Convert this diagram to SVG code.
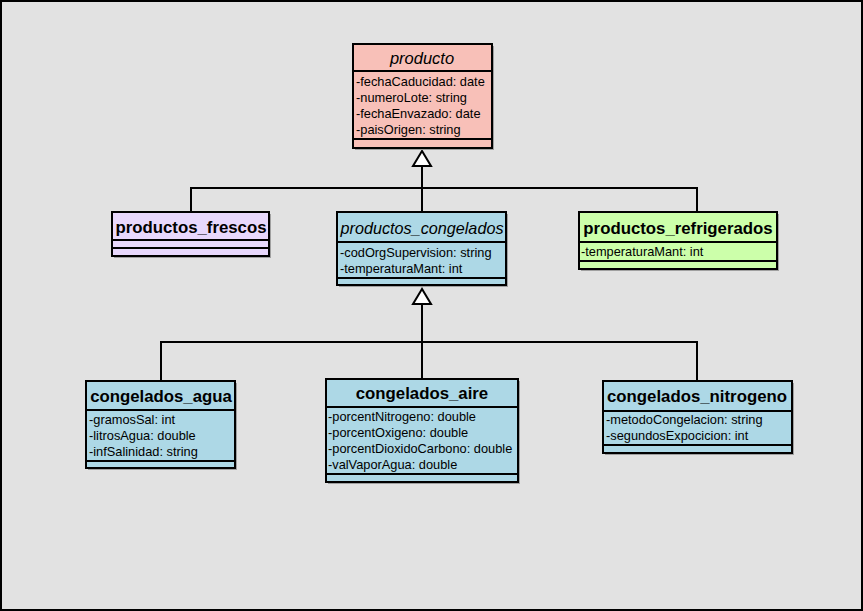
<svg xmlns="http://www.w3.org/2000/svg" width="863" height="611" viewBox="0 0 863 611">
<defs>
<style>
.bg{fill:#e2e2e2;stroke:#000;stroke-width:2}
.box{stroke:#000;stroke-width:2}
.sh{fill:#a0a0a0}
.sep{stroke:#000;stroke-width:2}
.pink{fill:#f8c0b8}
.lav{fill:#e8d8fc}
.blue{fill:#add8e6}
.green{fill:#ccffaa}
.t{font-family:"Liberation Sans",Arial,sans-serif;font-size:16.5px;text-anchor:middle;fill:#000}
.b{font-weight:bold;font-size:16.8px}
.i{font-style:italic}
.a{font-family:"Liberation Sans",Arial,sans-serif;font-size:12.8px;fill:#000}
.ln{fill:none;stroke:#000;stroke-width:2}
.tri{fill:#fff;stroke:#000;stroke-width:2}
</style>
</defs>
<rect class="bg" x="1" y="1" width="861" height="609"/>
<g id="connectors">
<polyline class="ln" points="191,211 191,188 697,188 697,212"/>
<line class="ln" x1="422" y1="166" x2="422" y2="212"/>
<polygon class="tri" points="422,151 413,166 431,166"/>
<polyline class="ln" points="161,381 161,342 697,342 697,380"/>
<line class="ln" x1="422" y1="304" x2="422" y2="378"/>
<polygon class="tri" points="422,289 413,304 431,304"/>
</g>
<g id="producto">
<rect class="sh" x="355" y="46" width="139" height="104"/>
<rect class="box pink" x="353" y="44" width="139" height="104"/>
<text class="t i" x="422" y="64">producto</text>
<line class="sep" x1="353" y1="71" x2="492" y2="71"/>
<text class="a" x="356" y="86">-fechaCaducidad: date</text>
<text class="a" x="356" y="102">-numeroLote: string</text>
<text class="a" x="356" y="118">-fechaEnvazado: date</text>
<text class="a" x="356" y="134">-paisOrigen: string</text>
<line class="sep" x1="353" y1="139" x2="492" y2="139"/>
</g>
<g id="productos_frescos">
<rect class="sh" x="114" y="214" width="157" height="44"/>
<rect class="box lav" x="112" y="212" width="157" height="44"/>
<text class="t b" x="191" y="233">productos_frescos</text>
<line class="sep" x1="112" y1="240" x2="269" y2="240"/>
<line class="sep" x1="112" y1="248" x2="269" y2="248"/>
</g>
<g id="productos_congelados">
<rect class="sh" x="339" y="214" width="169" height="73"/>
<rect class="box blue" x="337" y="212" width="169" height="73"/>
<text class="t i" x="422" y="234" textLength="163" lengthAdjust="spacingAndGlyphs">productos_congelados</text>
<line class="sep" x1="337" y1="242" x2="506" y2="242"/>
<text class="a" x="340" y="257">-codOrgSupervision: string</text>
<text class="a" x="340" y="273">-temperaturaMant: int</text>
<line class="sep" x1="337" y1="278" x2="506" y2="278"/>
</g>
<g id="productos_refrigerados">
<rect class="sh" x="581" y="214" width="198" height="57"/>
<rect class="box green" x="579" y="212" width="198" height="57"/>
<text class="t b" x="678" y="234">productos_refrigerados</text>
<line class="sep" x1="579" y1="242" x2="777" y2="242"/>
<text class="a" x="581" y="256">-temperaturaMant: int</text>
<line class="sep" x1="579" y1="261" x2="777" y2="261"/>
</g>
<g id="congelados_agua">
<rect class="sh" x="88" y="383" width="149" height="87"/>
<rect class="box blue" x="86" y="381" width="149" height="87"/>
<text class="t b" x="161" y="402">congelados_agua</text>
<line class="sep" x1="86" y1="410" x2="235" y2="410"/>
<text class="a" x="89" y="424">-gramosSal: int</text>
<text class="a" x="89" y="440">-litrosAgua: double</text>
<text class="a" x="89" y="456">-infSalinidad: string</text>
<line class="sep" x1="86" y1="461" x2="235" y2="461"/>
</g>
<g id="congelados_aire">
<rect class="sh" x="328" y="381" width="192" height="103"/>
<rect class="box blue" x="326" y="379" width="192" height="103"/>
<text class="t b" x="422" y="399">congelados_aire</text>
<line class="sep" x1="326" y1="407" x2="518" y2="407"/>
<text class="a" x="328" y="421">-porcentNitrogeno: double</text>
<text class="a" x="328" y="437">-porcentOxigeno: double</text>
<text class="a" x="328" y="453">-porcentDioxidoCarbono: double</text>
<text class="a" x="328" y="469">-valVaporAgua: double</text>
<line class="sep" x1="326" y1="474" x2="518" y2="474"/>
</g>
<g id="congelados_nitrogeno">
<rect class="sh" x="605" y="383" width="189" height="72"/>
<rect class="box blue" x="603" y="381" width="189" height="72"/>
<text class="t b" x="697" y="402">congelados_nitrogeno</text>
<line class="sep" x1="603" y1="411" x2="792" y2="411"/>
<text class="a" x="606" y="424">-metodoCongelacion: string</text>
<text class="a" x="606" y="440">-segundosExpocicion: int</text>
<line class="sep" x1="603" y1="445" x2="792" y2="445"/>
</g>
</svg>
